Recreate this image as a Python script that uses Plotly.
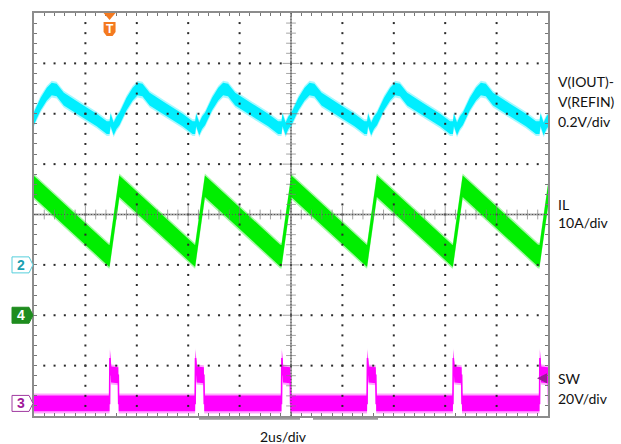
import numpy as np
import plotly.graph_objects as go

# ---- acquisition settings ----
time_per_div_us = 2.0
n_xdiv, n_ydiv = 10, 8
t_end = time_per_div_us * n_xdiv          # 20 us full screen

# vertical scales and ground references (divisions above screen bottom)
ch2_scale_v = 0.2      # V(IOUT)-V(REFIN), V/div
ch4_scale_a = 10.0     # IL, A/div
ch3_scale_v = 20.0     # SW, V/div
ch2_offset_div = 3.0
ch4_offset_div = 2.0
ch3_offset_div = 0.25

# SW rising edges (us) and trigger settings
sw_edges_us = [-0.40, 2.94, 6.27, 9.63, 12.96, 16.30, 19.67]
trigger_time_us = 2.94
trigger_level_v = 10.0

# one switching cycle of each waveform, time measured from the SW rising edge
vout_dt_us = [0.0, 0.04, 0.16, 0.27, 0.39, 0.66, 0.90, 1.09, 1.28, 1.56, 2.22, 2.84, 3.23]
vout_v = [0.545, 0.575, 0.540, 0.564, 0.580, 0.639, 0.678, 0.698, 0.694, 0.658, 0.615, 0.575, 0.545]

il_dt_us = [0.0, 0.38, 3.30]
il_a = [11.8, 25.6, 11.9]

sw_dt_us = [0.0, 0.015, 0.06, 0.34, 0.355, 3.30]
sw_v = [0.0, 18.0, 11.5, 11.2, 0.0, 0.0]

# ---- colours ----
CYAN = "#00EEFF"
GREEN = "#00EE00"
MAGENTA = "#FF00FF"
TEXT = "#111111"
FONT = "Lato"


def periodic(dt, vals, scale, offset):
    t, y = [], []
    for e in sw_edges_us:
        for d, v in zip(dt, vals):
            t.append(e + d)
            y.append(offset + v / scale)
    return np.array(t), np.array(y)


def band(t, y, h):
    xs = np.concatenate([t, t[::-1]])
    ys = np.concatenate([y + h, (y - h)[::-1]])
    return xs, ys


def rgba(hex_color, a):
    h = hex_color.lstrip("#")
    r, g, b = int(h[0:2], 16), int(h[2:4], 16), int(h[4:6], 16)
    return f"rgba({r},{g},{b},{a})"


fig = go.Figure()

# waveform envelopes (noisy band around each trace)
traces = [
    (periodic(vout_dt_us, vout_v, ch2_scale_v, ch2_offset_div), CYAN, 0.125, False),
    (periodic(il_dt_us, il_a, ch4_scale_a, ch4_offset_div), GREEN, 0.215, False),
    (periodic(sw_dt_us, sw_v, ch3_scale_v, ch3_offset_div), MAGENTA, 0.158, True),
]
for (t, y), col, h, edges in traces:
    hx, hy = band(t, y, h + 0.04)
    fig.add_trace(go.Scatter(x=hx, y=hy, fill="toself", mode="none",
                             fillcolor=rgba(col, 0.35), hoverinfo="skip", showlegend=False))
    bx, by = band(t, y, h)
    fig.add_trace(go.Scatter(x=bx, y=by, fill="toself", mode="none",
                             fillcolor=col, hoverinfo="skip", showlegend=False))
    if edges:
        fig.add_trace(go.Scatter(x=t, y=y, mode="lines", line=dict(color=col, width=1.6),
                                 hoverinfo="skip", showlegend=False))

# dotted graticule
gx, gy = [], []
for k in [1, 2, 3, 4, 6, 7, 8, 9]:
    for j in range(1, n_ydiv * 5):
        gx.append(k * time_per_div_us)
        gy.append(j * 0.2)
for k in [1, 2, 3, 5, 6, 7]:
    for j in range(1, n_xdiv * 5):
        gx.append(j * time_per_div_us / 5)
        gy.append(k)
fig.add_trace(go.Scatter(x=gx, y=gy, mode="markers",
                         marker=dict(symbol="square", size=2, color="#2a2a2a", line=dict(width=0)),
                         hoverinfo="skip", showlegend=False))

# centre cross with minor ticks
cx = [j * time_per_div_us / 5 for j in range(1, n_xdiv * 5)]
cx_size = [12 if j % 5 == 0 else 7 for j in range(1, n_xdiv * 5)]
fig.add_trace(go.Scatter(x=cx, y=[n_ydiv / 2] * len(cx), mode="markers",
                         marker=dict(symbol="line-ns", size=cx_size, line=dict(color="#808080", width=1)),
                         hoverinfo="skip", showlegend=False))
cy = [j * 0.2 for j in range(1, n_ydiv * 5)]
cy_size = [12 if j % 5 == 0 else 7 for j in range(1, n_ydiv * 5)]
fig.add_trace(go.Scatter(x=[t_end / 2] * len(cy), y=cy, mode="markers",
                         marker=dict(symbol="line-ew", size=cy_size, line=dict(color="#808080", width=1)),
                         hoverinfo="skip", showlegend=False))

shapes = [
    dict(type="line", xref="x", yref="y", x0=0, x1=t_end, y0=n_ydiv / 2, y1=n_ydiv / 2,
         line=dict(color="#a8a8a8", width=2), layer="below"),
    dict(type="line", xref="x", yref="y", x0=t_end / 2, x1=t_end / 2, y0=0, y1=n_ydiv,
         line=dict(color="#a8a8a8", width=2), layer="below"),
    dict(type="line", xref="x", yref="y", x0=0, x1=t_end, y0=n_ydiv / 2, y1=n_ydiv / 2,
         line=dict(color="#555555", width=1, dash="1px,2px"), layer="above"),
    dict(type="line", xref="x", yref="y", x0=t_end / 2, x1=t_end / 2, y0=0, y1=n_ydiv,
         line=dict(color="#555555", width=1, dash="1px,2px"), layer="above"),
    # record-position bar under the screen
    dict(type="line", xref="paper", yref="paper", x0=0.321, x1=0.5175, y0=-0.007, y1=-0.007,
         line=dict(color="#9a9a9a", width=2)),
    dict(type="line", xref="paper", yref="paper", x0=0.5428, x1=0.6693, y0=-0.007, y1=-0.007,
         line=dict(color="#9a9a9a", width=2)),
]

# channel ground markers on the left edge
marker_path = "M -22,-8 L -5,-8 L -1,0 L -5,8 L -22,8 Z"
ch_markers = [
    ("2", ch2_offset_div, "#55cfdc", "white", "#1a9fb0"),
    ("4", ch4_offset_div, "#1e8c1e", "#1e8c1e", "white"),
    ("3", ch3_offset_div, "#a03aa0", "white", "#a0189a"),
]
annotations = []
for label, off, edge_col, fill_col, txt_col in ch_markers:
    shapes.append(dict(type="path", xref="paper", yref="paper", xsizemode="pixel", ysizemode="pixel",
                       xanchor=0, yanchor=off / n_ydiv, path=marker_path,
                       line=dict(color=edge_col, width=1), fillcolor=fill_col))
    annotations.append(dict(x=0, y=off / n_ydiv, xref="paper", yref="paper",
                            xanchor="center", yanchor="middle", xshift=-13.5,
                            text=f"<b>{label}</b>", showarrow=False,
                            font=dict(family="Liberation Sans", size=14, color=txt_col)))

# trigger position marker (top) and trigger level marker (right edge)
ORANGE = "#F47A20"
shapes.append(dict(type="path", xref="x", yref="paper", xsizemode="pixel", ysizemode="pixel",
                   xanchor=trigger_time_us, yanchor=1, path="M -6,0 L 6,0 L 0,-7 Z",
                   line=dict(color=ORANGE, width=0), fillcolor=ORANGE))
shapes.append(dict(type="path", xref="x", yref="paper", xsizemode="pixel", ysizemode="pixel",
                   xanchor=trigger_time_us, yanchor=1,
                   path="M -6,-9 L 6,-9 L 6,-19 L 3,-23 L -3,-23 L -6,-19 Z",
                   line=dict(color=ORANGE, width=0), fillcolor=ORANGE))
annotations.append(dict(x=trigger_time_us, y=1, xref="x", yref="paper",
                        xanchor="center", yanchor="middle", yshift=-16,
                        text="<b>T</b>", showarrow=False,
                        font=dict(family="Liberation Sans", size=12, color="white")))
trig_y = (ch3_offset_div + trigger_level_v / ch3_scale_v) / n_ydiv
shapes.append(dict(type="path", xref="paper", yref="paper", xsizemode="pixel", ysizemode="pixel",
                   xanchor=1, yanchor=trig_y, path="M -11,0 L -1,5 L -1,-5 Z",
                   line=dict(color="#9a1a96", width=0), fillcolor="#9a1a96"))

# channel labels
labels = [
    ("V(IOUT)-", 0.8296), ("V(REFIN)", 0.780), ("0.2V/div", 0.731),
    ("IL", 0.526), ("10A/div", 0.479),
    ("SW", 0.0938), ("20V/div", 0.0444),
]
for txt, yp in labels:
    annotations.append(dict(x=1, y=yp, xref="paper", yref="paper", xanchor="left", yanchor="middle",
                            xshift=8, text=txt, showarrow=False,
                            font=dict(family=FONT, size=14, color=TEXT)))
annotations.append(dict(x=0.486, y=-0.052, xref="paper", yref="paper", text="2us/div",
                        xanchor="center", yanchor="middle",
                        showarrow=False, font=dict(family=FONT, size=14, color=TEXT)))

axis_common = dict(showgrid=False, zeroline=False, showticklabels=False,
                   ticks="inside", ticklen=3, tickwidth=1, tickcolor="#777777",
                   showline=True, linecolor="#8c8c8c", linewidth=2, mirror="ticks")

fig.update_layout(
    width=621, height=444,
    margin=dict(l=34, r=73, t=11, b=28),
    paper_bgcolor="white", plot_bgcolor="white",
    xaxis=dict(range=[0, t_end], dtick=time_per_div_us / 5, tick0=0, **axis_common),
    yaxis=dict(range=[0, n_ydiv], dtick=0.2, tick0=0, **axis_common),
    shapes=shapes, annotations=annotations,
    showlegend=False,
)

fig.write_html("out.html")
